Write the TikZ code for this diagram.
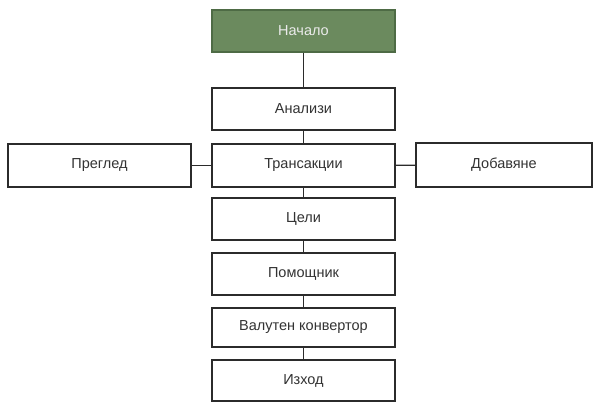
\documentclass[tikz,border=0pt]{standalone}
\usepackage{fontspec}
\setmainfont{Liberation Sans}
\definecolor{boxline}{HTML}{2B2B2B}
\definecolor{txt}{HTML}{333333}
\definecolor{startfill}{HTML}{6B8A5E}
\definecolor{startline}{HTML}{4E6B45}
\begin{document}
\begin{tikzpicture}[x=1pt,y=-1pt,
  box/.style={draw=boxline,line width=1.3pt,fill=white,text=txt,minimum width=183pt,minimum height=42pt,inner sep=0pt,font=\fontsize{14.5}{17}\selectfont},
  startbox/.style={box,fill=startfill,draw=startline,text=white!92!black},
  link/.style={draw=boxline,line width=1.1pt}]
\useasboundingbox (0,0) rectangle (593,403);
\node[startbox] (start) at (303.5,31) {Начало};
\node[box] (anal) at (303.5,109) {Анализи};
\node[box,minimum height=43pt] (trans) at (303.5,165.5) {Трансакции};
\node[box,minimum height=43pt] (preg) at (99.5,165.5) {Преглед};
\node[box,minimum width=176pt,minimum height=44pt] (dob) at (504,165) {Добавяне};
\node[box] (goals) at (303.5,219) {Цели};
\node[box] (help) at (303.5,274) {Помощник};
\node[box,minimum height=39pt] (conv) at (303.5,327.5) {Валутен конвертор};
\node[box,minimum height=41pt] (exit) at (303.5,380.5) {Изход};
\draw[link] (start) -- (anal);
\draw[link] (anal) -- (trans);
\draw[link] (trans) -- (goals);
\draw[link] (goals) -- (help);
\draw[link] (help) -- (conv);
\draw[link] (conv) -- (exit);
\draw[link] (preg) -- (trans);
\draw[link] (trans) -- (dob);
\end{tikzpicture}
\end{document}
